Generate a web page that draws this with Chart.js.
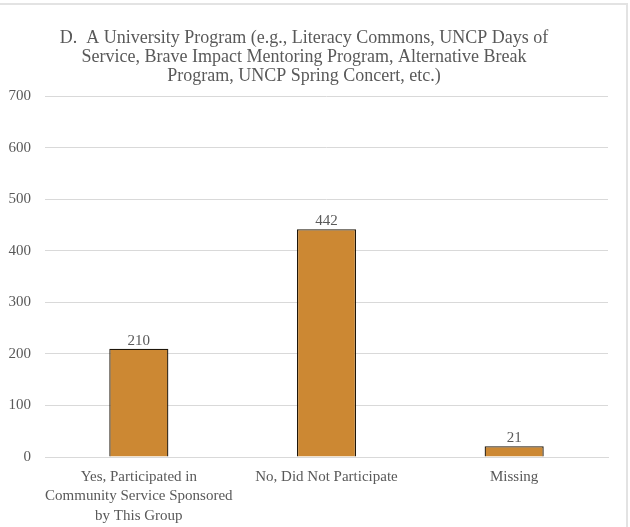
<!DOCTYPE html>
<html>
<head>
<meta charset="utf-8">
<script src="https://cdn.jsdelivr.net/npm/chart.js@4"></script>
<style>
    html, body { margin: 0; padding: 0; background: #fff; }
    #wrap { position: relative; width: 630px; height: 527px; }
    #frame { position: absolute; left: -2px; top: 3px; width: 630px; height: 540px; border-top: 2px solid #e3e3e3; border-right: 2px solid #e3e3e3; box-sizing: border-box; pointer-events: none; }
    canvas { position: absolute; left: 0; top: 0; }
</style>
</head>
<body>
<div id="wrap">
    <canvas id="chart" width="630" height="527"></canvas>
    <div id="frame"></div>
</div>
<script>
// 数据
const categories = [
    ['Yes, Participated in', 'Community Service Sponsored', 'by This Group'],
    'No, Did Not Participate',
    'Missing'
];
const counts = [210, 442, 21];
const titleLines = [
    'D.  A University Program (e.g., Literacy Commons, UNCP Days of',
    'Service, Brave Impact Mentoring Program, Alternative Break',
    'Program, UNCP Spring Concert, etc.)'
];

const FONT = '"Liberation Serif", "Times New Roman", serif';
const TEXT = '#595959';

// 柱顶数值
const valueLabels = {
    id: 'valueLabels',
    afterDatasetsDraw(chart) {
        const ctx = chart.ctx;
        const meta = chart.getDatasetMeta(0);
        ctx.save();
        ctx.font = '15px ' + FONT;
        ctx.fillStyle = TEXT;
        ctx.textAlign = 'center';
        ctx.textBaseline = 'middle';
        meta.data.forEach((bar, i) => {
            ctx.fillText(String(counts[i]), bar.x, bar.y - 8);
        });
        ctx.restore();
    }
};

new Chart(document.getElementById('chart'), {
    type: 'bar',
    data: {
        labels: categories,
        datasets: [{
            data: counts,
            backgroundColor: '#CC8833',
            borderColor: '#1e160a',
            borderWidth: 1.3,
            borderSkipped: 'bottom',
            categoryPercentage: 1,
            barPercentage: 0.315
        }]
    },
    options: {
        responsive: false,
        animation: false,
        layout: { padding: { left: 0, right: 22, top: 0, bottom: 0 } },
        plugins: {
            legend: { display: false },
            tooltip: { enabled: false },
            title: {
                display: true,
                text: titleLines,
                color: TEXT,
                font: { family: FONT, size: 18, weight: 'normal', lineHeight: 1.04 },
                padding: { top: 29, bottom: 11 }
            }
        },
        scales: {
            y: {
                min: 0,
                max: 700,
                ticks: { stepSize: 100, color: TEXT, font: { family: FONT, size: 15 }, padding: 14 },
                grid: { color: '#d9d9d9', drawTicks: false },
                border: { display: false },
                afterFit(scale) { scale.width = 45; }
            },
            x: {
                ticks: { color: TEXT, font: { family: FONT, size: 15, lineHeight: 1.3 }, padding: 10, maxRotation: 0, autoSkip: false },
                grid: { display: false, drawTicks: false },
                border: { color: '#d9d9d9' },
                afterFit(scale) { scale.height = 70; }
            }
        }
    },
    plugins: [valueLabels]
});
</script>
</body>
</html>
